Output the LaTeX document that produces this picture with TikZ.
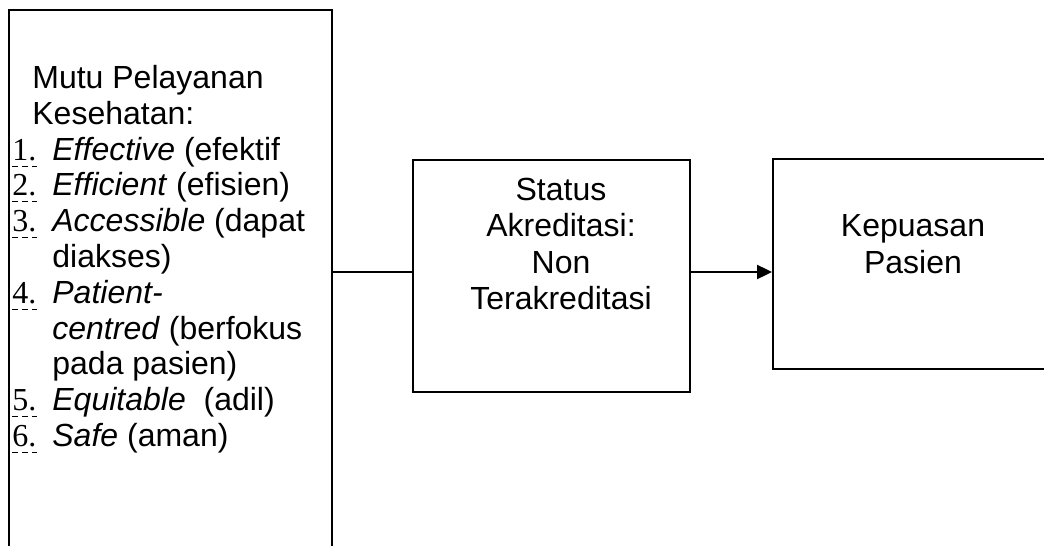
\documentclass[tikz,border=0pt]{standalone}
\usepackage{fontspec}
\setmainfont{Liberation Sans}
\newfontfamily\angka{Liberation Serif}
\usetikzlibrary{arrows.meta}
\begin{document}
\begin{tikzpicture}[x=0.5pt,y=-0.5pt,line join=miter,>={Triangle[length=7.5pt,width=7pt]}]
	\tikzset{every node/.style={font=\fontsize{16}{18}\selectfont,inner sep=0pt},
		kotak/.style={draw,line width=1pt},
		baris/.style={anchor=base west}}
	\useasboundingbox (0,0) rectangle (1044,546);
	\clip (0,0) rectangle (1044,546);
	% kotak-kotak
	\node[kotak,minimum width=161.5pt,minimum height=290pt] (mutu) at (170.5,300) {};
	\node[kotak,minimum width=138.5pt,minimum height=116pt] (status) at (551.5,276) {};
	\node[kotak,minimum width=140pt,minimum height=105pt] (puas) at (913,264) {};
	\coordinate (jalur) at (0,272);
	\draw[line width=1pt] (mutu.east |- jalur) -- (status.west |- jalur);
	\draw[->,line width=1.2pt] (status.east |- jalur) -- (puas.west |- jalur);
	% teks kotak kiri
	\node[baris] (judul1) at (32,88) {Mutu Pelayanan};
	\node[baris] (judul2) at (32,124) {Kesehatan:};
	\foreach \teks/\y [count=\i] in {{\textit{Effective} (efektif}/160,
			{\textit{Efficient} (efisien)}/195,
			{\textit{Accessible} (dapat}/231,
			{diakses)}/267,
			{\textit{Patient-}}/303,
			{\textit{centred} (berfokus}/339,
			{pada pasien)}/374,
			{\textit{Equitable}\ \ (adil)}/410,
			{\textit{Safe} (aman)}/446}
		\node[baris] (isi\i) at (52,\y) {\teks};
	\foreach \n/\y in {1/160,2/195,3/231,4/303,5/410,6/446}{
		\node[baris,font=\angka\fontsize{16}{18}\selectfont] (no\n) at (12,\y) {\n.};
		\draw[densely dashed,line width=0.4pt] ([yshift=-3pt]no\n.base west) -- ([yshift=-3pt]no\n.base east);
	}
	% teks kotak tengah dan kanan
	\foreach \teks/\y [count=\i] in {Status/200,Akreditasi:/236,Non/273,Terakreditasi/309}
		\node[anchor=base] (akr\i) at (561,\y) {\teks};
	\node[anchor=base] (puas1) at (913,236) {Kepuasan};
	\node[anchor=base] (puas2) at (913,273) {Pasien};
\end{tikzpicture}
\end{document}
